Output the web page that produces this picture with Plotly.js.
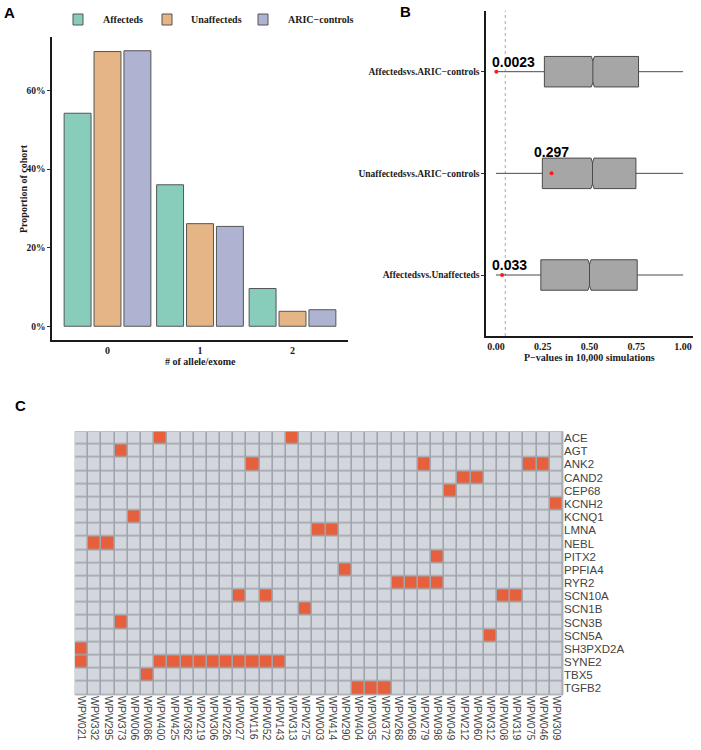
<!DOCTYPE html>
<html>
<head>
<meta charset="utf-8">
<script src="https://cdn.plot.ly/plotly-3.0.1.min.js"></script>
<style>
  html, body { margin: 0; padding: 0; background: #ffffff; }
  #chart { width: 701px; height: 750px; }
</style>
</head>
<body>
<div id="chart"></div>
<script>
// ---------- Panel A data ----------
const alleleCounts = ['0', '1', '2'];
const cohortNames = ['Affecteds', 'Unaffecteds', 'ARIC\u2212controls'];
const affectedsPct = [54.2, 36.0, 9.6];
const unaffectedsPct = [69.9, 26.1, 3.8];
const aricPct = [70.1, 25.4, 4.2];
const cohortColors = ['#88CDBB', '#E5B585', '#AEB3D1'];
const pctTicks = [0, 20, 40, 60];

// ---------- Panel B data ----------
const comparisons = ['Affectedsvs.Unaffecteds', 'Unaffectedsvs.ARIC\u2212controls', 'Affectedsvs.ARIC\u2212controls'];
const boxLowerFence = [0.0, 0.0, 0.0];
const boxQ1 = [0.240, 0.248, 0.259];
const boxMedian = [0.500, 0.516, 0.518];
const boxQ3 = [0.755, 0.748, 0.762];
const boxUpperFence = [1.0, 1.0, 1.0];
const observedP = [0.033, 0.297, 0.0023];
const observedPLabels = ['0.033', '0.297', '0.0023'];
const pTicks = [0, 0.25, 0.5, 0.75, 1.0];
const pTickLabels = ['0.00', '0.25', '0.50', '0.75', '1.00'];
const pThreshold = 0.05;

// ---------- Panel C data ----------
const genes = ['ACE', 'AGT', 'ANK2', 'CAND2', 'CEP68', 'KCNH2', 'KCNQ1', 'LMNA', 'NEBL', 'PITX2',
  'PPFIA4', 'RYR2', 'SCN10A', 'SCN1B', 'SCN3B', 'SCN5A', 'SH3PXD2A', 'SYNE2', 'TBX5', 'TGFB2'];
const samples = ['WPW021', 'WPW332', 'WPW295', 'WPW373', 'WPW006', 'WPW086', 'WPW400', 'WPW425',
  'WPW362', 'WPW219', 'WPW306', 'WPW226', 'WPW027', 'WPW116', 'WPW052', 'WPW143', 'WPW313',
  'WPW275', 'WPW003', 'WPW414', 'WPW290', 'WPW404', 'WPW035', 'WPW372', 'WPW268', 'WPW068',
  'WPW279', 'WPW098', 'WPW049', 'WPW212', 'WPW060', 'WPW312', 'WPW008', 'WPW319', 'WPW075',
  'WPW046', 'WPW309'];
// variant carriers: parallel lists of gene and sample
const hitGene = [
  'ACE', 'ACE',
  'AGT',
  'ANK2', 'ANK2', 'ANK2', 'ANK2',
  'CAND2', 'CAND2',
  'CEP68',
  'KCNH2',
  'KCNQ1',
  'LMNA', 'LMNA',
  'NEBL', 'NEBL',
  'PITX2',
  'PPFIA4',
  'RYR2', 'RYR2', 'RYR2', 'RYR2',
  'SCN10A', 'SCN10A', 'SCN10A', 'SCN10A',
  'SCN1B',
  'SCN3B',
  'SCN5A',
  'SH3PXD2A',
  'SYNE2', 'SYNE2', 'SYNE2', 'SYNE2', 'SYNE2', 'SYNE2', 'SYNE2', 'SYNE2', 'SYNE2', 'SYNE2', 'SYNE2',
  'TBX5',
  'TGFB2', 'TGFB2', 'TGFB2'
];
const hitSample = [
  'WPW400', 'WPW313',
  'WPW373',
  'WPW116', 'WPW279', 'WPW075', 'WPW046',
  'WPW212', 'WPW060',
  'WPW049',
  'WPW309',
  'WPW006',
  'WPW003', 'WPW414',
  'WPW332', 'WPW295',
  'WPW098',
  'WPW290',
  'WPW268', 'WPW068', 'WPW279', 'WPW098',
  'WPW027', 'WPW052', 'WPW008', 'WPW319',
  'WPW275',
  'WPW373',
  'WPW312',
  'WPW021',
  'WPW021', 'WPW400', 'WPW425', 'WPW362', 'WPW219', 'WPW306', 'WPW226', 'WPW027', 'WPW116', 'WPW052', 'WPW143',
  'WPW086',
  'WPW404', 'WPW035', 'WPW372'
];

// ---------- build ----------
const SERIF = 'Liberation Serif, Times New Roman, serif';
const SANS = 'Liberation Sans, Arial, sans-serif';
const serifBold = { family: SERIF, size: 10, color: '#1a1a1a', weight: 'bold' };
const serifBoldSm = { family: SERIF, size: 9.5, color: '#1a1a1a', weight: 'bold' };

const z = genes.map(g => samples.map(s => 0));
hitGene.forEach((g, i) => {
  const r = genes.indexOf(g), c = samples.indexOf(hitSample[i]);
  if (r >= 0 && c >= 0) z[r][c] = 1;
});

const seriesVals = [affectedsPct, unaffectedsPct, aricPct];
const traces = [];
seriesVals.forEach((vals, i) => {
  traces.push({
    type: 'bar', x: alleleCounts, y: vals, name: cohortNames[i],
    xaxis: 'x', yaxis: 'y', showlegend: false,
    marker: { color: cohortColors[i], line: { color: '#555555', width: 1 } },
    hoverinfo: 'skip'
  });
});

comparisons.forEach((c, i) => {
  traces.push({
    type: 'box', orientation: 'h', y: [c],
    q1: [boxQ1[i]], median: [boxMedian[i]], q3: [boxQ3[i]],
    lowerfence: [boxLowerFence[i]], upperfence: [boxUpperFence[i]],
    notched: true, notchspan: [0.008], notchwidth: 0.15,
    width: 0.3, whiskerwidth: 0,
    fillcolor: '#A6A6A6', line: { color: '#4a4a4a', width: 1 },
    xaxis: 'x2', yaxis: 'y2', showlegend: false, hoverinfo: 'skip'
  });
});

traces.push({
  type: 'scatter', mode: 'markers', x: observedP, y: comparisons,
  marker: { color: '#FF1A1A', size: 4 },
  xaxis: 'x2', yaxis: 'y2', showlegend: false, hoverinfo: 'skip'
});

traces.push({
  type: 'heatmap', x: samples, y: genes, z: z,
  zmin: 0, zmax: 1,
  colorscale: [[0, '#D3D6DD'], [0.5, '#D3D6DD'], [0.5, '#E6603D'], [1, '#E6603D']],
  showscale: false, xgap: 1.6, ygap: 1.6, showlegend: false,
  xaxis: 'x3', yaxis: 'y3', hoverinfo: 'skip'
});

const W = 701, H = 750;
const px = v => v / W;
const py = v => 1 - v / H;
const C = { xanchor: 'center', yanchor: 'middle', xref: 'paper', yref: 'paper', showarrow: false };

const annotations = [
  Object.assign({ text: '<b>A</b>', x: px(9.5), y: py(13), font: { family: SANS, size: 15, color: '#000' } }, C),
  Object.assign({ text: '<b>B</b>', x: px(405.5), y: py(11.5), font: { family: SANS, size: 15, color: '#000' } }, C),
  Object.assign({ text: '<b>C</b>', x: px(20.5), y: py(405), font: { family: SANS, size: 15, color: '#000' } }, C),
  Object.assign({ text: 'Proportion of cohort', x: px(23.5), y: py(188.5), textangle: -90, font: serifBold }, C),
  Object.assign({ text: '# of allele/exome', x: px(200), y: py(361), font: serifBold }, C),
  Object.assign({ text: 'P\u2212values in 10,000 simulations', x: px(589.5), y: py(357.5), font: serifBold }, C)
];
observedP.forEach((p, i) => {
  const inside = p >= boxQ1[i];
  annotations.push({
    text: '<b>' + observedPLabels[i] + '</b>',
    x: inside ? p : -0.033, y: comparisons[i], xref: 'x2', yref: 'y2',
    xanchor: inside ? 'center' : 'left', yanchor: 'middle',
    yshift: inside ? 21.5 : 10,
    showarrow: false, font: { family: SANS, size: 14, color: '#000' }
  });
});

// manual legend for panel A
const legendSquareX = [73, 162, 258];
const legendTextX = [101, 189, 286];
const shapes = [
  { type: 'line', xref: 'x2', yref: 'y2 domain', x0: pThreshold, x1: pThreshold, y0: 0, y1: 1,
    line: { color: '#aaaaaa', width: 1, dash: 'dot' }, layer: 'below' },
  { type: 'rect', xref: 'x3 domain', yref: 'y3 domain', x0: 0, x1: 1, y0: 0, y1: 1,
    fillcolor: '#A0A4AC', line: { color: '#B4B8BF', width: 1 }, layer: 'below' }
];
cohortNames.forEach((n, i) => {
  shapes.push({
    type: 'rect', xref: 'paper', yref: 'paper',
    x0: px(legendSquareX[i]), x1: px(legendSquareX[i] + 10), y0: py(25), y1: py(14),
    fillcolor: cohortColors[i], line: { color: '#555555', width: 1 }
  });
  annotations.push({
    text: n, x: px(legendTextX[i]), y: py(19.5), xref: 'paper', yref: 'paper',
    xanchor: 'left', yanchor: 'middle', showarrow: false, font: serifBold
  });
});

const layout = {
  width: W, height: H,
  margin: { l: 0, r: 0, t: 0, b: 0 },
  paper_bgcolor: '#ffffff', plot_bgcolor: 'rgba(0,0,0,0)',
  font: { family: SERIF, size: 10, color: '#1a1a1a' },
  barmode: 'group', bargap: 0.03, bargroupgap: 0.1,
  showlegend: false,
  xaxis: {
    domain: [px(52), px(348)], anchor: 'y', type: 'category',
    range: [-0.6, 2.6], showline: true, linecolor: '#1a1a1a', linewidth: 1.6,
    ticks: '', showgrid: false, zeroline: false, tickfont: serifBold
  },
  yaxis: {
    domain: [py(340), py(37)], anchor: 'x',
    range: [-3.5, 73.6], showline: true, linecolor: '#1a1a1a', linewidth: 1.6,
    tickvals: pctTicks, ticktext: pctTicks.map(v => v + '%'),
    ticks: 'outside', ticklen: 3, tickcolor: '#333', tickwidth: 1,
    showgrid: false, zeroline: false, tickfont: serifBoldSm
  },
  xaxis2: {
    domain: [px(486), px(693)], anchor: 'y2',
    range: [-0.053, 1.053], showline: true, linecolor: '#1a1a1a', linewidth: 1.6,
    tickvals: pTicks, ticktext: pTickLabels,
    ticks: '', showgrid: false, zeroline: false, tickfont: serifBold
  },
  yaxis2: {
    domain: [py(336), py(10.7)], anchor: 'x2', type: 'category',
    categoryorder: 'array', categoryarray: comparisons,
    range: [-0.6, 2.6], showline: true, linecolor: '#1a1a1a', linewidth: 1.6,
    ticks: 'outside', ticklen: 3, tickcolor: '#333', tickwidth: 1,
    showgrid: false, zeroline: false, tickfont: serifBoldSm
  },
  xaxis3: {
    domain: [px(75), px(563)], anchor: 'y3', type: 'category',
    categoryorder: 'array', categoryarray: samples,
    tickmode: 'array', tickvals: samples, ticktext: samples,
    range: [-0.5, samples.length - 0.5],
    tickangle: 90, ticks: '', showline: false, showgrid: false, zeroline: false,
    tickfont: { family: SANS, size: 10.5, color: '#444' }
  },
  yaxis3: {
    domain: [py(695), py(431.5)], anchor: 'x3', type: 'category', side: 'right',
    categoryorder: 'array', categoryarray: genes,
    tickmode: 'array', tickvals: genes, ticktext: genes,
    range: [genes.length - 0.5, -0.5],
    ticks: '', showline: false, showgrid: false, zeroline: false,
    tickfont: { family: SANS, size: 11.5, color: '#444' }
  },
  shapes: shapes,
  annotations: annotations
};

Plotly.newPlot('chart', traces, layout, { staticPlot: true, displayModeBar: false });
</script>
</body>
</html>
